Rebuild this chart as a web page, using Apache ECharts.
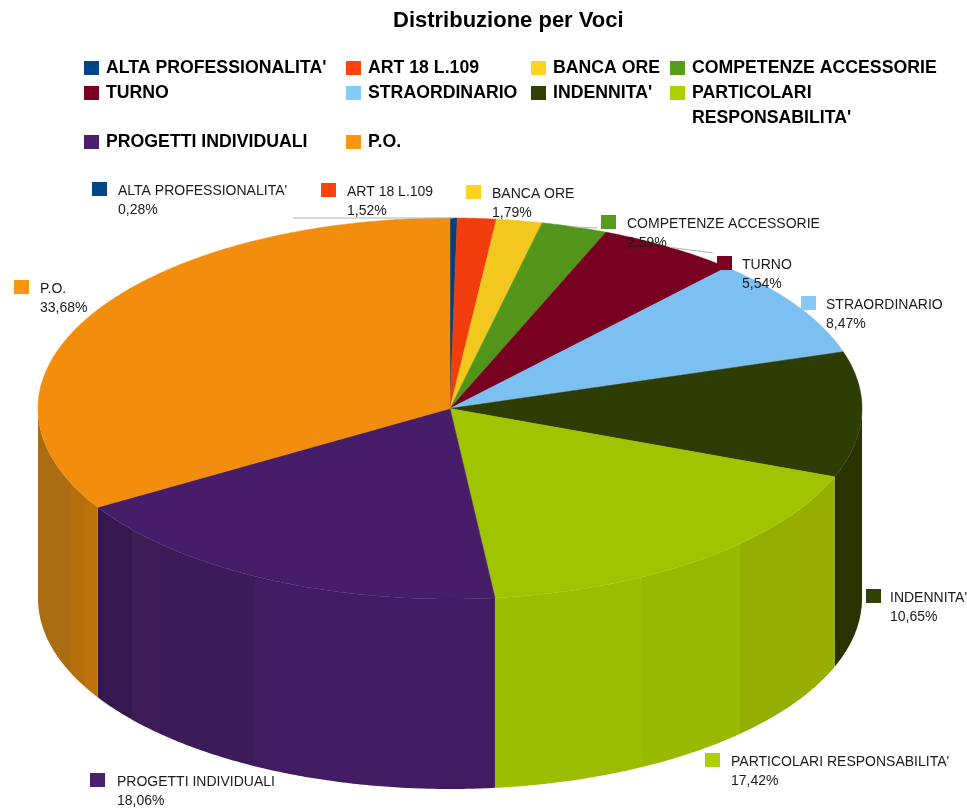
<!DOCTYPE html>
<html>
<head>
<meta charset="utf-8">
<title>Distribuzione per Voci</title>
<script src="https://cdn.jsdelivr.net/npm/echarts@6/dist/echarts.min.js"></script>
<style>
html, body { margin: 0; padding: 0; background: #fff; }
#main { width: 967px; height: 808px; }
</style>
</head>
<body>
<div id="main"></div>
<script>
var names = ["ALTA PROFESSIONALITA'", "ART 18 L.109", "BANCA ORE", "COMPETENZE ACCESSORIE", "TURNO",
    "STRAORDINARIO", "INDENNITA'", "PARTICOLARI RESPONSABILITA'", "PROGETTI INDIVIDUALI", "P.O."];
var values = [0.28, 1.52, 1.79, 2.59, 5.54, 8.47, 10.65, 17.42, 18.06, 33.68];

var legendColors = ["#004586", "#ff420e", "#ffd320", "#579d1c", "#7e0021", "#83caff", "#314004", "#aecf00", "#4b1f6f", "#ff950e"];
var topColors = ["#00417f", "#f23e0d", "#f2c81e", "#53951a", "#780020", "#7cc0f2", "#2e3d04", "#a0c400", "#471d69", "#f28d0d"];

// side wall shading, [x where the band ends, colour]
var sideBands = {
    6: [[970, "#2a3300"]],
    7: [[642, "#9dbe00"], [740, "#99b800"], [792, "#93ad00"], [970, "#96ae00"]],
    8: [[132, "#36174f"], [160, "#3e1c56"], [255, "#3c1b59"], [970, "#421c63"]],
    9: [[70, "#aa6c10"], [85, "#b56e0b"], [970, "#bd720a"]]
};

// legend box corner for each entry, the swatch sits 2px below it
var legendPos = [[84, 59], [346, 59], [531, 59], [670, 59], [84, 84], [346, 84], [531, 84], [670, 84], [84, 133], [346, 133]];
// slice label swatch corner and text left edge
var labelPos = [[92, 182], [321, 183], [466, 185], [601, 215], [717, 256], [801, 296], [866, 589], [705, 753], [90, 773], [14, 280]];
var labelTextX = [118, 347, 492, 627, 742, 826, 890, 731, 117, 40];
// where the leader lines leave the label
var leaders = { 0: [293, 218], 3: [597, 228], 4: [713, 253] };

var cx = 450, cy = 408.5, rx = 412, ry = 190.5, depth = 190;

function pointAt(deg, drop) {
    var a = deg * Math.PI / 180;
    return [cx + rx * Math.sin(a), cy - ry * Math.cos(a) + (drop || 0)];
}

function startDeg(i) {
    var sum = 0;
    for (var k = 0; k < i; k++) {
        sum += values[k];
    }
    return sum * 3.6;
}

function arcPoints(from, to, drop) {
    var pts = [];
    var steps = Math.max(2, Math.ceil((to - from) * 2));
    for (var s = 0; s <= steps; s++) {
        pts.push(pointAt(from + (to - from) * s / steps, drop));
    }
    return pts;
}

function sideFill(i) {
    var stops = [];
    var prev = 0;
    sideBands[i].forEach(function (b) {
        stops.push({ offset: prev / 970, color: b[1] });
        stops.push({ offset: b[0] / 970, color: b[1] });
        prev = b[0];
    });
    return new echarts.graphic.LinearGradient(0, 0, 970, 0, stops, true);
}

function renderSlice(i) {
    return function (params, api) {
        var from = startDeg(i);
        var to = from + api.value(0) * 3.6;
        var children = [];

        // front wall, only the part between 90 and 270 degrees shows
        var a = Math.max(from, 90), b = Math.min(to, 270);
        if (b > a) {
            children.push({
                type: 'polygon',
                z2: 1,
                shape: { points: arcPoints(a, b, 0).concat(arcPoints(a, b, depth).reverse()) },
                style: { fill: sideFill(i) }
            });
        }

        children.push({
            type: 'polygon',
            z2: 2,
            shape: { points: [[cx, cy]].concat(arcPoints(from, to, 0)) },
            style: { fill: topColors[i], stroke: topColors[i], lineWidth: 0.5 }
        });

        if (leaders[i]) {
            var mid = pointAt((from + to) / 2, 0);
            children.push({
                type: 'line',
                z2: 3,
                shape: { x1: mid[0], y1: mid[1], x2: leaders[i][0], y2: leaders[i][1] },
                style: { stroke: '#b3b3b3', lineWidth: 1 }
            });
        }

        var p = labelPos[i];
        children.push({
            type: 'rect',
            z2: 4,
            shape: { x: p[0], y: p[1], width: 15, height: 14 },
            style: { fill: legendColors[i] }
        });
        children.push({
            type: 'text',
            z2: 4,
            style: {
                x: labelTextX[i],
                y: p[1] - 1,
                text: names[i] + '\n' + api.value(0).toFixed(2).replace('.', ',') + '%',
                fill: '#1a1a1a',
                font: '14px "Liberation Sans"',
                lineHeight: 19.5
            }
        });
        return { type: 'group', children: children };
    };
}

var series = names.map(function (name, i) {
    return {
        type: 'custom',
        name: name,
        coordinateSystem: 'none',
        silent: true,
        renderItem: renderSlice(i),
        data: [[values[i]]]
    };
});

var legends = names.map(function (name, i) {
    return {
        left: legendPos[i][0],
        top: legendPos[i][1],
        padding: 0,
        orient: 'horizontal',
        icon: 'rect',
        itemWidth: 15,
        itemHeight: 14,
        selectedMode: false,
        data: [name],
        formatter: function (n) {
            return n.indexOf('PARTICOLARI') === 0 ? 'PARTICOLARI' : n;
        },
        textStyle: {
            color: '#000',
            fontFamily: 'Liberation Sans',
            fontWeight: 'bold',
            fontSize: 17.7,
            padding: [0, 0, 0, 2]
        }
    };
});

var myChart = echarts.init(document.getElementById('main'), null, { renderer: 'canvas' });
myChart.setOption({
    animation: false,
    backgroundColor: '#fff',
    color: legendColors,
    title: {
        text: 'Distribuzione per Voci',
        left: 393,
        top: 10,
        padding: 0,
        textStyle: { color: '#000', fontFamily: 'Liberation Sans', fontWeight: 'bold', fontSize: 22 }
    },
    legend: legends,
    // second line of the wrapped legend entry
    graphic: [{
        type: 'text',
        left: 692,
        top: 109,
        style: { text: "RESPONSABILITA'", fill: '#000', font: 'bold 17.7px "Liberation Sans"' }
    }],
    series: series
});
</script>
</body>
</html>
